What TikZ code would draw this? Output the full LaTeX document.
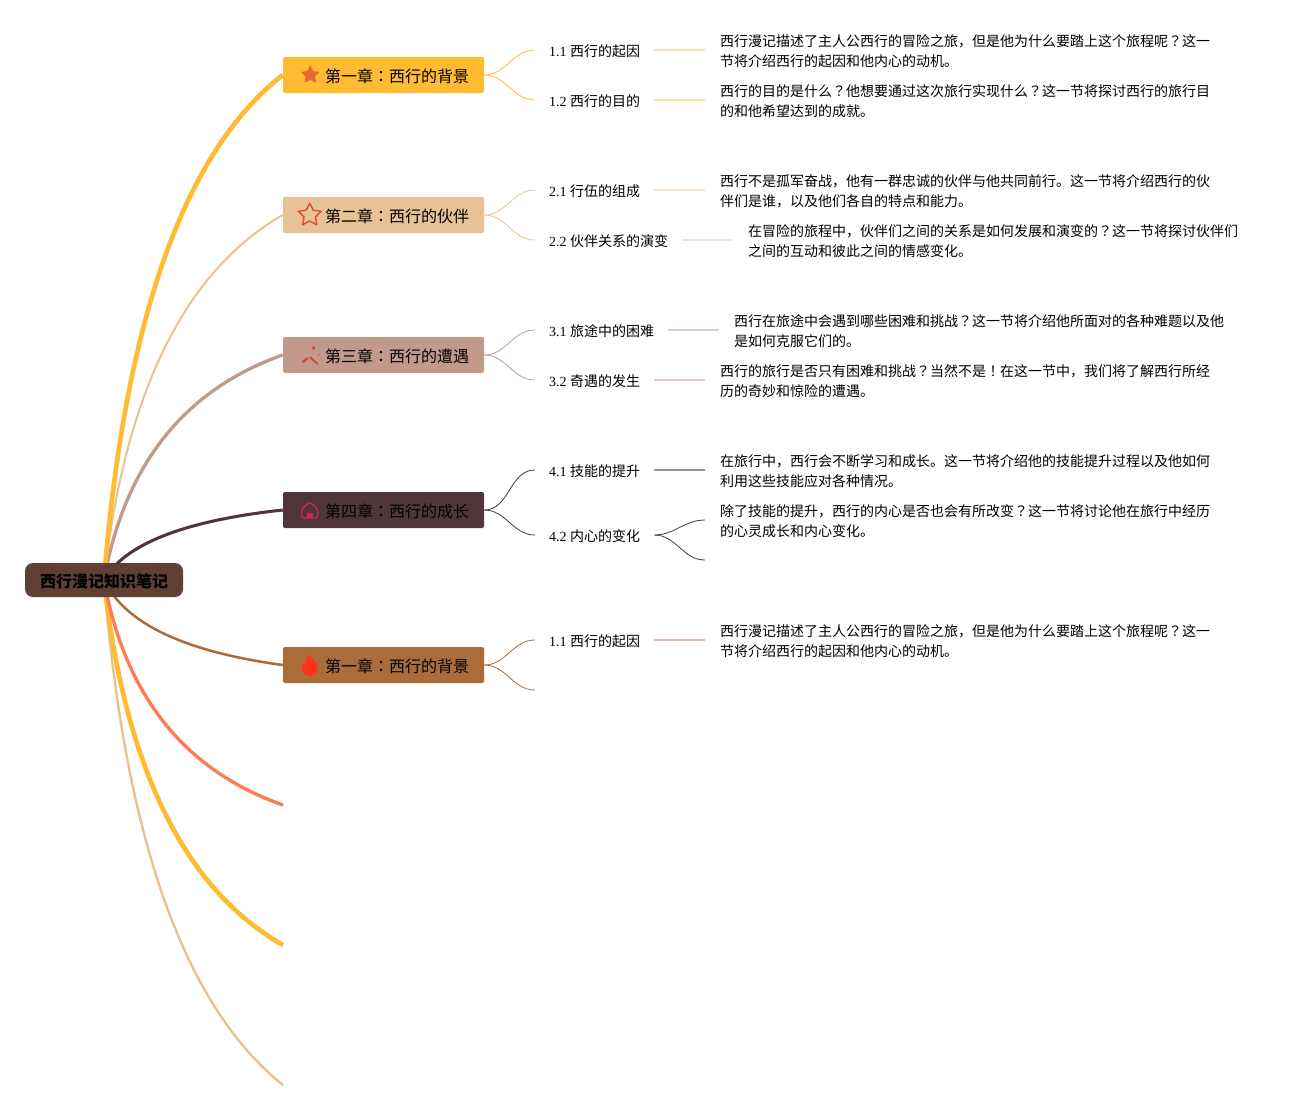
\documentclass[tikz,border=0pt]{standalone}
\usepackage{fontspec}
\setmainfont{Liberation Serif}
\newfontfamily\cjk{Noto Sans CJK SC}
\newfontfamily\cjkmark{Noto Sans CJK JP}
\catcode`？=\active \def？{{\cjkmark\char"FF1F\relax}}
\catcode`：=\active \def：{{\cjkmark\char"FF1A\relax}}
\catcode`！=\active \def！{{\cjkmark\char"FF01\relax}}
\usetikzlibrary{positioning, backgrounds, shapes.geometric}

\definecolor{chone}{HTML}{FFBC33}
\definecolor{chtwo}{HTML}{E6C294}
\definecolor{chthree}{HTML}{C19A8C}
\definecolor{chfour}{HTML}{50363A}
\definecolor{chfive}{HTML}{AB6C3C}
\definecolor{chsix}{HTML}{FF7B52}
\definecolor{rootbrown}{HTML}{603F35}
\definecolor{iconone}{HTML}{E86A33}
\definecolor{icontwo}{HTML}{E8452B}
\definecolor{iconthree}{HTML}{DD3F35}
\definecolor{iconfour}{HTML}{CE2650}
\definecolor{iconfive}{HTML}{FF3318}

\tikzset{
  rootbox/.style = {fill=rootbrown, rounded corners=6pt, minimum width=118.5pt, minimum height=25.5pt,
    inner sep=0pt, text height=13.3pt, text depth=1.5pt, font=\cjk\bfseries\fontsize{12pt}{15pt}\selectfont},
  chapter/.style = {rounded corners=1.5pt, inner xsep=11.25pt, inner ysep=0pt, text width=128.25pt,
    minimum height=27pt, text height=13.3pt, text depth=1.5pt, align=right, font=\cjk\fontsize{12pt}{15pt}\selectfont},
  sublabel/.style = {inner xsep=10.5pt, inner ysep=2pt, text height=10.7pt, text depth=1.5pt, font=\fontsize{10.5pt}{15pt}\selectfont},
  detail/.style = {inner xsep=11.25pt, inner ysep=0pt, yshift=-1.1pt, align=left, font=\cjk\fontsize{10.5pt}{15pt}\selectfont},
  branch/.style = {line width=0.6pt, out=0, in=180},
  stem/.style = {line width=1pt},
}

\begin{document}
\begin{tikzpicture} [x=0.75pt, y=0.75pt]
\useasboundingbox (0,0) rectangle (1308,-1110);

\node (root) [rootbox] at (104,-580) {西行漫记知识笔记};

\node (ch1) [chapter, fill=chone] at (383.5,-75) {第一章：西行的背景};
\node (ch2) [chapter, fill=chtwo] at (383.5,-215) {第二章：西行的伙伴};
\node (ch3) [chapter, fill=chthree] at (383.5,-355) {第三章：西行的遭遇};
\node (ch4) [chapter, fill=chfour] at (383.5,-510) {第四章：西行的成长};
\node (ch5) [chapter, fill=chfive] at (383.5,-665) {第一章：西行的背景};
\coordinate (free1) at (283,-805);
\coordinate (free2) at (283,-945);
\coordinate (free3) at (283,-1085);

% first chapter
\node (s11) [sublabel, above right = 25 and 50.5 of ch1.east, anchor=west] {1.1 {\cjk 西行的起因}};
\node (s12) [sublabel, below right = 25 and 50.5 of ch1.east, anchor=west] {1.2 {\cjk 西行的目的}};
\node (d11) [detail, right = 50.5 of s11.east] {西行漫记描述了主人公西行的冒险之旅，但是他为什么要踏上这个旅程呢？这一\\节将介绍西行的起因和他内心的动机。};
\node (d12) [detail, right = 50.5 of s12.east] {西行的目的是什么？他想要通过这次旅行实现什么？这一节将探讨西行的旅行目\\的和他希望达到的成就。};

% second chapter
\node (s21) [sublabel, above right = 25 and 50.5 of ch2.east, anchor=west] {2.1 {\cjk 行伍的组成}};
\node (s22) [sublabel, below right = 25 and 50.5 of ch2.east, anchor=west] {2.2 {\cjk 伙伴关系的演变}};
\node (d21) [detail, right = 50.5 of s21.east] {西行不是孤军奋战，他有一群忠诚的伙伴与他共同前行。这一节将介绍西行的伙\\伴们是谁，以及他们各自的特点和能力。};
\node (d22) [detail, right = 50.5 of s22.east] {在冒险的旅程中，伙伴们之间的关系是如何发展和演变的？这一节将探讨伙伴们\\之间的互动和彼此之间的情感变化。};

% third chapter
\node (s31) [sublabel, above right = 25 and 50.5 of ch3.east, anchor=west] {3.1 {\cjk 旅途中的困难}};
\node (s32) [sublabel, below right = 25 and 50.5 of ch3.east, anchor=west] {3.2 {\cjk 奇遇的发生}};
\node (d31) [detail, right = 50.5 of s31.east] {西行在旅途中会遇到哪些困难和挑战？这一节将介绍他所面对的各种难题以及他\\是如何克服它们的。};
\node (d32) [detail, right = 50.5 of s32.east] {西行的旅行是否只有困难和挑战？当然不是！在这一节中，我们将了解西行所经\\历的奇妙和惊险的遭遇。};

% fourth chapter
\node (s41) [sublabel, above right = 40 and 50.5 of ch4.east, anchor=west] {4.1 {\cjk 技能的提升}};
\node (s42) [sublabel, below right = 25 and 50.5 of ch4.east, anchor=west] {4.2 {\cjk 内心的变化}};
\node (d41) [detail, right = 50.5 of s41.east] {在旅行中，西行会不断学习和成长。这一节将介绍他的技能提升过程以及他如何\\利用这些技能应对各种情况。};
\coordinate [above right = 15 and 50.5 of s42.east] (e41);
\coordinate [below right = 25 and 50.5 of s42.east] (e42);
\node (d42) [detail, right = 0 of e41] {除了技能的提升，西行的内心是否也会有所改变？这一节将讨论他在旅行中经历\\的心灵成长和内心变化。};

% fifth chapter
\node (s51) [sublabel, above right = 25 and 50.5 of ch5.east, anchor=west] {1.1 {\cjk 西行的起因}};
\coordinate [below right = 25 and 50.5 of ch5.east] (e52);
\node (d51) [detail, right = 50.5 of s51.east] {西行漫记描述了主人公西行的冒险之旅，但是他为什么要踏上这个旅程呢？这一\\节将介绍西行的起因和他内心的动机。};

\begin{scope}[on background layer]
\draw [chtwo, line width=1.5pt] (root.center) .. controls (124.7,-393.3) and (184.3,-271.7) .. (ch2.west);
\draw [chthree, line width=2.5pt] (root.center) .. controls (124.7,-464.7) and (184.3,-389.7) .. (ch3.west);
\draw [chone, line width=3.5pt] (root.center) .. controls (124.7,-320) and (184.3,-151.7) .. (ch1.west);
\draw [chfour, line width=2.3pt] (root.center) .. controls (124.7,-544) and (184.3,-520.7) .. (ch4.west);
\draw [chfive, line width=1.9pt] (root.center) .. controls (124.7,-623.3) and (184.3,-651.7) .. (ch5.west);
\draw [chtwo, line width=1.8pt] (root.center) .. controls (124.7,-838) and (184.3,-1006.3) .. (free3);
\draw [chone, line width=3.5pt] (root.center) .. controls (124.7,-767.3) and (184.3,-889) .. (free2);
\draw [chsix, line width=2.5pt] (root.center) .. controls (124.7,-695.3) and (184.3,-770.3) .. (free1);
\end{scope}

\path [branch, chone]
	(ch1.east) edge (s11.west)
	(ch1.east) edge (s12.west);
\path [branch, chtwo]
	(ch2.east) edge (s21.west)
	(ch2.east) edge (s22.west);
\path [branch, chthree]
	(ch3.east) edge (s31.west)
	(ch3.east) edge (s32.west);
\path [branch, chfour]
	(ch4.east) edge (s41.west)
	(ch4.east) edge (s42.west)
	(s42.east) edge (e41)
	(s42.east) edge (e42);
\path [branch, chfive]
	(ch5.east) edge (s51.west)
	(ch5.east) edge (e52);

\path [stem]
	(s11.east) edge [chone!45] (s11.east -| d11.west)
	(s12.east) edge [chone!45] (s12.east -| d12.west)
	(s21.east) edge [chtwo!45] (s21.east -| d21.west)
	(s22.east) edge [chtwo!45] (s22.east -| d22.west)
	(s31.east) edge [chthree!50] (s31.east -| d31.west)
	(s32.east) edge [chthree!50] (s32.east -| d32.west)
	(s41.east) edge [chfour!55] (s41.east -| d41.west)
	(s51.east) edge [chfive!45] (s51.east -| d51.west);

% icons
\coordinate [right = 27.5 of ch1.west] (ic1);
\coordinate [right = 27 of ch2.west] (ic2);
\coordinate [right = 27 of ch3.west] (ic3);
\coordinate [right = 27 of ch4.west] (ic4);
\coordinate [right = 27.5 of ch5.west] (ic5);

\node [star, star points=5, star point ratio=2, fill=iconone, draw=iconone, line width=0.8pt, line join=round, inner sep=0pt, minimum size=13pt] at (ic1) {};
\node [star, star points=5, star point ratio=2, draw=icontwo, line width=1pt, line join=round, inner sep=0pt, minimum size=18pt] at (ic2) {};

\begin{scope}[shift={(ic3)}, color=iconthree]
\draw [line width=1.3pt] (0,-2) -- (8,-9);
\draw [line width=1.6pt] (-7,-7) -- (-2,-3);
\fill (4,9) -- (6,7) -- (4,5) -- (2,7) -- cycle;
\fill (9,0) circle (0.8);
\end{scope}

\begin{scope}[shift={(ic4)}, color=iconfour]
\draw [line width=1pt, line join=round, rounded corners=1.5pt] (-8,-8) -- (-8,1) -- (0,8) -- (8,1) -- (8,-8) -- cycle;
\fill (-3,-8) rectangle (3,-3);
\end{scope}

\begin{scope}[shift={(ic5)}, color=iconfive]
\fill (-1.5,11) .. controls (0,6) and (8,3) .. (8,-3) .. controls (8,-8) and (3,-11) .. (0,-11)
	.. controls (-5,-11) and (-8.5,-7) .. (-8.5,-3) .. controls (-8.5,-1) and (-7.5,1) .. (-6.5,3)
	.. controls (-6,1.5) and (-5.5,0.5) .. (-4.5,0) .. controls (-4.5,4) and (-3.5,8) .. (-1.5,11);
\end{scope}
\end{tikzpicture}
\end{document}
